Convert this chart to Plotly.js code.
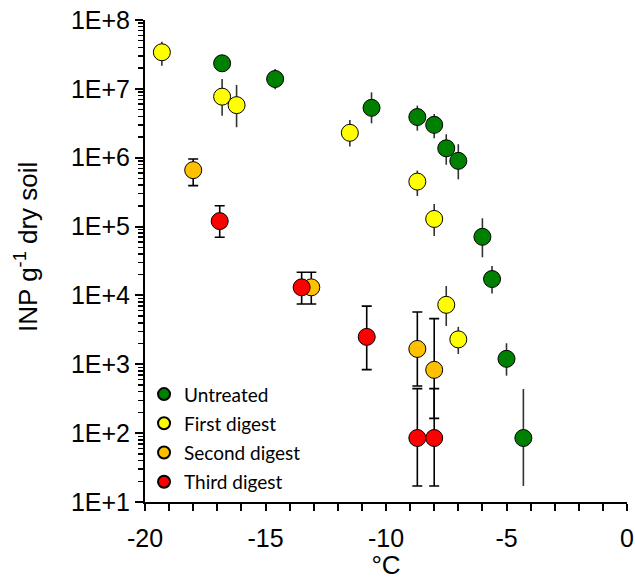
<!DOCTYPE html>
<html>
<head>
<meta charset="utf-8">
<script src="https://cdn.plot.ly/plotly-3.0.1.min.js"></script>
<style>html,body{margin:0;padding:0;background:#fff;}#chart{width:635px;height:580px;}</style>
</head>
<body>
<div id="chart"></div>
<script>
// ---- data ----
const seriesNames = ['Untreated', 'First digest', 'Second digest', 'Third digest'];

const untreatedX  = [-16.8, -14.6, -10.6, -8.7, -8.0, -7.5, -7.0, -6.0, -5.6, -5.0, -4.3];
const untreatedY  = [2.35e7, 1.39e7, 5.3e6, 3.9e6, 3.0e6, 1.37e6, 9.0e5, 7.1e4, 1.73e4, 1.2e3, 85];
const untreatedHi = [2.9e7, 1.94e7, 8.9e6, 5.7e6, 4.3e6, 2.19e6, 1.57e6, 1.32e5, 2.68e4, 2.02e3, 437];
const untreatedLo = [1.9e7, 9.9e6, 3.16e6, 2.47e6, 1.91e6, 7.9e5, 4.85e5, 3.58e4, 1.07e4, 684, 17.1];

const firstX  = [-19.3, -16.8, -16.2, -11.5, -8.7, -8.0, -7.5, -7.0];
const firstY  = [3.4e7, 7.7e6, 5.8e6, 2.3e6, 4.5e5, 1.29e5, 7.3e3, 2.3e3];
const firstHi = [4.84e7, 1.39e7, 1.14e7, 3.53e6, 6.5e5, 2.13e5, 1.37e4, 3.5e3];
const firstLo = [2.17e7, 4.07e6, 2.77e6, 1.45e6, 2.78e5, 7.3e4, 3.6e3, 1.41e3];

const secondX  = [-18.0, -13.1, -8.7, -8.0];
const secondY  = [6.6e5, 1.31e4, 1.67e3, 830];
const secondHi = [9.6e5, 2.17e4, 5.75e3, 4.6e3];
const secondLo = [3.93e5, 7.5e3, 484, 164];

const thirdX  = [-16.9, -13.5, -10.8, -8.7, -8.0];
const thirdY  = [1.2e5, 1.31e4, 2.5e3, 85, 85];
const thirdHi = [2.01e5, 2.17e4, 7.0e3, 443, 443];
const thirdLo = [6.98e4, 7.5e3, 836, 17.1, 17.1];

const xTickVals = [-20, -15, -10, -5, 0];
const xTickText = ['-20', '-15', '-10', '-5', '0'];
const yTickVals = [1e1, 1e2, 1e3, 1e4, 1e5, 1e6, 1e7, 1e8];
const yTickText = ['1E+1', '1E+2', '1E+3', '1E+4', '1E+5', '1E+6', '1E+7', '1E+8'];

// ---- styling ----
const colors = ['#008000', '#FFFF00', '#FFC000', '#FF0000'];
const caps = [0, 0, 5, 5];
const seriesData = [
  [untreatedX, untreatedY, untreatedHi, untreatedLo],
  [firstX, firstY, firstHi, firstLo],
  [secondX, secondY, secondHi, secondLo],
  [thirdX, thirdY, thirdHi, thirdLo]
];

const traces = seriesData.map((s, i) => {
  const [xs, ys, hi, lo] = s;
  return {
    type: 'scatter', mode: 'markers', name: seriesNames[i],
    legendgroup: 'g' + i,
    x: xs, y: ys,
    marker: {size: 17, color: colors[i], line: {color: '#000', width: 1}},
    error_y: {
      type: 'data', symmetric: false,
      array: ys.map((v, k) => hi[k] - v),
      arrayminus: ys.map((v, k) => v - lo[k]),
      color: i < 2 ? '#333' : '#000', thickness: 1.6, width: caps[i]
    },
    cliponaxis: false
  };
});

const fontMain = '"Liberation Sans", Arial, sans-serif';

const layout = {
  width: 635, height: 580,
  margin: {l: 145, r: 8, t: 20, b: 78},
  paper_bgcolor: '#fff', plot_bgcolor: '#fff',
  showlegend: true,
  legend: {
    x: -0.002, y: 0.263, xanchor: 'left', yanchor: 'top',
    font: {family: 'Lato, Carlito, Calibri, sans-serif', size: 19, color: '#000'},
    itemsizing: 'constant', tracegroupgap: 1.5,
    bgcolor: 'rgba(0,0,0,0)'
  },
  xaxis: {
    range: [-20, 0], tickvals: xTickVals, ticktext: xTickText,
    ticks: 'outside', ticklen: 7, tickwidth: 2, tickcolor: '#000',
    ticklabelstandoff: 6,
    showline: true, linecolor: '#000', linewidth: 2,
    showgrid: false, zeroline: false,
    tickfont: {family: fontMain, size: 25, color: '#000'},
    minor: {ticks: 'outside', ticklen: 7, tickwidth: 2, tickcolor: '#000', dtick: 1, tick0: 0, showgrid: false},
    title: {text: '°C', font: {family: fontMain, size: 26, color: '#000'}, standoff: 4}
  },
  yaxis: {
    type: 'log', range: [1, 8],
    tickvals: yTickVals, ticktext: yTickText,
    ticks: 'outside', ticklen: 8, tickwidth: 2, tickcolor: '#000',
    showline: true, linecolor: '#000', linewidth: 2,
    showgrid: false, zeroline: false,
    tickfont: {family: fontMain, size: 25, color: '#000'},
    minor: {ticks: 'outside', ticklen: 5, tickwidth: 1.5, tickcolor: '#000', dtick: 'D1', showgrid: false}
  },
  annotations: [{
    xref: 'paper', yref: 'paper',
    x: -0.247, y: 0.529, xanchor: 'center', yanchor: 'middle',
    textangle: -90, showarrow: false,
    text: 'INP g<sup>-1</sup> dry soil',
    font: {family: fontMain, size: 26, color: '#000'}
  }]
};

Plotly.newPlot('chart', traces, layout, {displayModeBar: false, staticPlot: true});
</script>
</body>
</html>
